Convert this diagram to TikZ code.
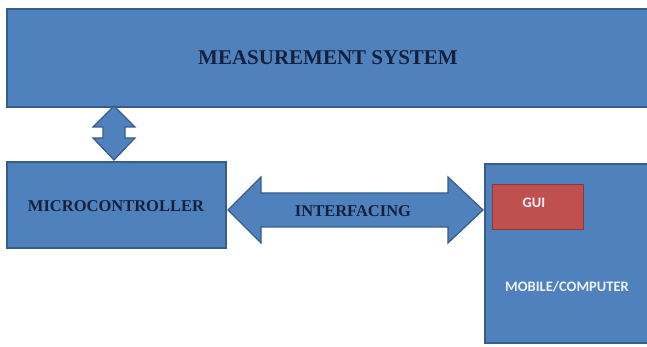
\documentclass[tikz,border=0pt]{standalone}
\usepackage{fontspec}
\setmainfont{Liberation Serif}
\newfontfamily\calib{Carlito}
\definecolor{boxblue}{HTML}{4F81BD}
\definecolor{boxedge}{HTML}{385D8A}
\definecolor{guired}{HTML}{C0504D}
\definecolor{guiedge}{HTML}{8C3836}
\definecolor{darktxt}{HTML}{14213D}
\definecolor{lighttxt}{HTML}{EEF2FA}
\begin{document}
\begin{tikzpicture}[x=1pt,y=-1pt,
  bluebox/.style={fill=boxblue,draw=boxedge,line width=1.6pt},
  arrowshape/.style={fill=boxblue,draw=boxedge,line width=1.2pt,line join=miter},
  darklabel/.style={text=darktxt,font=\bfseries\fontsize{16.5}{18}\selectfont,inner sep=0pt},
  lightlabel/.style={text=lighttxt,font=\calib\bfseries\fontsize{14.5}{16}\selectfont,inner sep=0pt}]
\useasboundingbox (0,0) rectangle (647,347);
% boxes
\draw[bluebox] (7,9) rectangle (652,107);
\node[darklabel,font=\bfseries\fontsize{21}{24}\selectfont] (meas) at (328,58) {MEASUREMENT SYSTEM};
\draw[bluebox] (7,162) rectangle (226,248);
\node[darklabel] (micro) at (116,206) {MICROCONTROLLER};
\draw[bluebox] (485,164) rectangle (652,343);
\draw[fill=guired,draw=guiedge,line width=1pt] (492,185) rectangle (583,230);
\node[lightlabel] (gui) at (534,203) {GUI};
\node[lightlabel] (mob) at (567,287) {MOBILE/COMPUTER};
% vertical double arrow
\coordinate (vt) at (114,106);
\coordinate (vb) at (114,160);
\draw[arrowshape] (vt) -- ++(21,21) -- ++(-10,0) -- ++(0,11) -- ++(10,0) -- (vb)
  -- ++(-21,-22) -- ++(10,0) -- ++(0,-11) -- ++(-10,0) -- cycle;
% horizontal double arrow
\coordinate (hl) at (228,210);
\coordinate (hr) at (483,210);
\draw[arrowshape] (hl) -- ++(33,-33) -- ++(0,16) -- ++(187,0) -- ++(0,-16) -- (hr)
  -- ++(-35,33) -- ++(0,-16) -- ++(-187,0) -- ++(0,16) -- cycle;
\node[darklabel] (intf) at (353,211) {INTERFACING};
\end{tikzpicture}
\end{document}
